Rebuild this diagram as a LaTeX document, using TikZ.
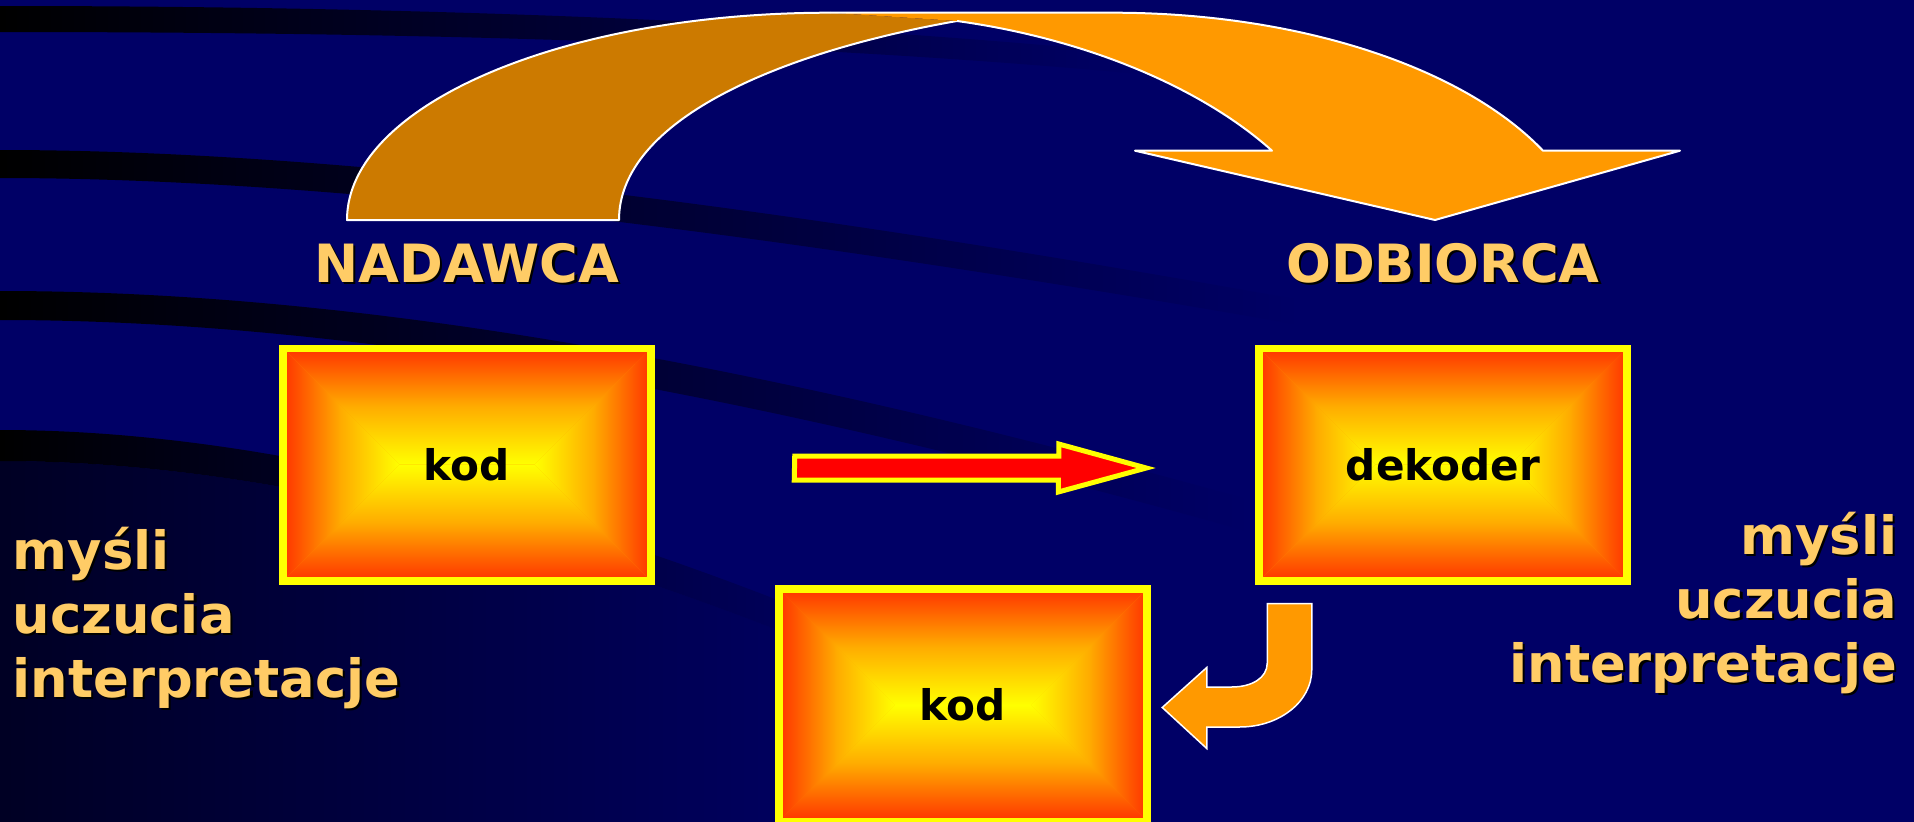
\documentclass[tikz,border=0pt]{standalone}
\usepackage{fontspec}
\setmainfont{DejaVu Sans}
\usepackage{xcolor}
\usepackage{tikz}
\usetikzlibrary{calc}
\definecolor{bgnavy}{RGB}{0,0,102}
\definecolor{boxred}{RGB}{255,51,0}
\definecolor{boxmid}{RGB}{255,172,0}
\definecolor{boxyel}{RGB}{255,255,0}
\definecolor{arcdark}{RGB}{204,122,0}
\definecolor{arclight}{RGB}{255,153,0}
\definecolor{labcol}{RGB}{255,204,102}
\definecolor{streakblue}{RGB}{51,102,255}
\newcommand{\shadowtxt}[1]{\rlap{\kern0.22mm\raisebox{-0.22mm}{\textcolor{black}{#1}}}#1}

\begin{document}
\begin{tikzpicture}[
    x=0.1mm,
    y=-0.1mm,
    bandshade/.style={left color=black, right color=bgnavy},
    box/.style={draw=boxyel, line width=0.75mm, fill=arclight,
        minimum width=36.8mm, minimum height=23.25mm, inner sep=0pt,
        font=\fontsize{12}{14}\selectfont\bfseries, text=black,
        path picture={
            \path (path picture bounding box.north west) coordinate (pnw)
                  (path picture bounding box.north east) coordinate (pne)
                  (path picture bounding box.south west) coordinate (psw)
                  (path picture bounding box.south east) coordinate (pse);
            \coordinate (pcl) at ($(path picture bounding box.west)+(11.63mm,0)$);
            \coordinate (pcr) at ($(path picture bounding box.east)+(-11.63mm,0)$);
            \shade[top color=boxred, bottom color=boxyel, middle color=boxmid] (pnw) -- (pne) -- (pcr) -- (pcl) -- cycle;
            \shade[top color=boxyel, bottom color=boxred, middle color=boxmid] (psw) -- (pse) -- (pcr) -- (pcl) -- cycle;
            \shade[left color=boxred, right color=boxyel, middle color=boxmid] (pnw) -- (psw) -- (pcl) -- cycle;
            \shade[left color=boxyel, right color=boxred, middle color=boxmid] (pne) -- (pse) -- (pcr) -- cycle;
        }},
    title/.style={font=\fontsize{15}{18.2}\selectfont\bfseries, text=labcol, inner sep=0pt},
    edge/.style={draw=white, line width=0.2mm, line join=round},
    redarrow/.style={fill=red, draw=boxyel, line width=0.5mm, line join=miter},
    bentarr/.style={fill=arclight, draw=white, line width=0.15mm, line join=miter}
]
% Background
\useasboundingbox (0,0) rectangle (1914,822);
\fill[bgnavy] (0,0) rectangle (1914,822);
\shade[left color=bgnavy!35!black, right color=bgnavy] (0,461) .. controls (250,461) and (550,530) .. (900,680) -- (900,822) -- (0,822) -- cycle;
\shade[bandshade] (0,6) .. controls (400,6) and (800,20) .. (1150,55) -- (1150,75) .. controls (800,42) and (400,32) .. (0,32) -- cycle;
\shade[bandshade] (0,150) .. controls (350,150) and (800,210) .. (1300,300) -- (1300,325) .. controls (800,238) and (350,178) .. (0,178) -- cycle;
\shade[bandshade] (0,291) .. controls (350,291) and (750,360) .. (1250,500) -- (1250,532) .. controls (750,392) and (350,320) .. (0,320) -- cycle;
\shade[bandshade] (0,430) .. controls (250,430) and (550,500) .. (900,650) -- (900,680) .. controls (550,530) and (250,461) .. (0,461) -- cycle;
\shade[left color=bgnavy, middle color=streakblue, right color=bgnavy] (1845,199) -- (1914,215) -- (1914,243) -- (1845,228) -- cycle;
\shade[left color=bgnavy, middle color=streakblue, right color=bgnavy] (1845,514) -- (1914,555) -- (1914,590) -- (1845,549) -- cycle;
% Curved arrow on top
\fill[arcdark] (347,220) .. controls (347,105) and (563,12.7) .. (830,12.7) -- (957,21) .. controls (780,52) and (619,120) .. (619,220) -- cycle;
\draw[edge] (957,21) .. controls (780,52) and (619,120) .. (619,220) -- (347,220) .. controls (347,105) and (563,12.7) .. (830,12.7);
\fill[arclight] (830,12.7) -- (1113,12.7) .. controls (1296,12.7) and (1462,66) .. (1543,150.7) -- (1680,150.7) -- (1435,220) -- (1135,150.7) -- (1272,150.7) .. controls (1202,88) and (1087,39) .. (957,21) -- cycle;
\draw[edge] (830,12.7) -- (1113,12.7) .. controls (1296,12.7) and (1462,66) .. (1543,150.7) -- (1680,150.7) -- (1435,220) -- (1135,150.7) -- (1272,150.7) .. controls (1202,88) and (1087,39) .. (957,21);
% Titles
\node[title, anchor=base] (nad) at (467,282) {\shadowtxt{NADAWCA}};
\node[title, anchor=base] (odb) at (1443,282) {\shadowtxt{ODBIORCA}};
% Boxes
\node[box] (kodA) at (467,464.5) {kod};
\node[box] (dek) at (1443,464.5) {dekoder};
\node[box] (kodB) at (963,705) {kod};
% Arrows between boxes
\coordinate (rtail) at ($(kodA.east)+(140,3.5)$);
\coordinate (rtip) at ($(dek.west)+(-109,3.5)$);
\draw[redarrow] (rtail) ++(0,-12) -- ++(264,0) -- ++(0,-12) -- (rtip) -- ++(-88,24) -- ++(0,-12) -- ++(-264,0) -- cycle;
\coordinate (btop) at ($(dek.south west)+(12,19)$);
\draw[bentarr] (btop) -- ++(44.5,0) -- ++(0,66.5) .. controls +(0,31.5) and +(39.7,0) .. ++(-72,57) -- ++(-33,0) -- ++(0,21.5) -- ++(-44.5,-41) -- ++(44.5,-40) -- ++(0,19.5) -- ++(25,0) .. controls +(20,0) and +(0,15) .. ++(35.5,-24) -- cycle;
% Side texts
\node[title, anchor=base west, align=left] (nadtxt) at (12,697) {\shadowtxt{myśli}\\\shadowtxt{uczucia}\\\shadowtxt{interpretacje}};
\node[title, anchor=base east, align=right] (odbtxt) at (1898,682) {\shadowtxt{myśli}\\\shadowtxt{uczucia}\\\shadowtxt{interpretacje}};
\end{tikzpicture}
\end{document}
